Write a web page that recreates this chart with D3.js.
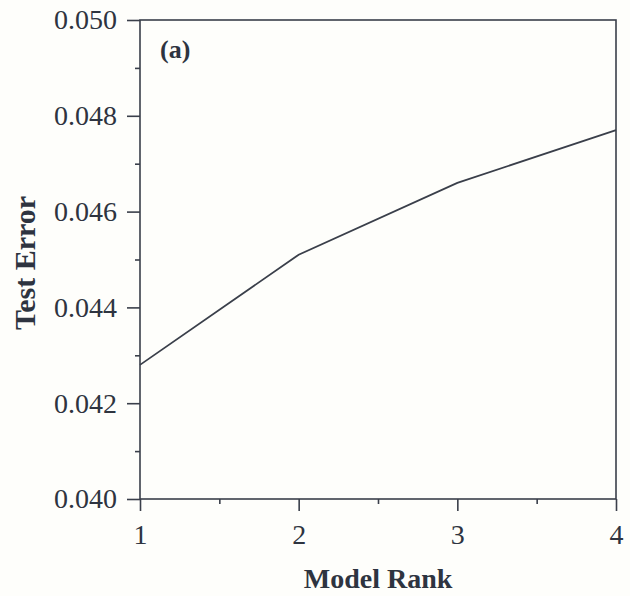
<!DOCTYPE html>
<html>
<head>
<meta charset="utf-8">
<script src="https://cdn.jsdelivr.net/npm/d3@7"></script>
<style>
  body { margin: 0; background: #fefefb; }
  svg { display: block; }
  text { font-family: "Liberation Serif", "Times New Roman", serif; fill: #2e3440; }
</style>
</head>
<body>
<svg class="chart" width="630" height="596"></svg>
<script>
// model rank vs test error
const ranks = [1, 2, 3, 4];
const testError = [0.0428, 0.0451, 0.0466, 0.0477];
const yTicks = [0.040, 0.042, 0.044, 0.046, 0.048, 0.050];
const yMinorTicks = [0.041, 0.043, 0.045, 0.047, 0.049];
const xTicks = [1, 2, 3, 4];
const xMinorTicks = [1.5, 2.5, 3.5];

const ink = '#3a3f4a';
const margin = { top: 20, right: 14, bottom: 97, left: 140 };
const width = 630 - margin.left - margin.right;
const height = 596 - margin.top - margin.bottom;

const svg = d3.select('.chart');
const g = svg.append('g').attr('transform', `translate(${margin.left},${margin.top})`);

const x = d3.scaleLinear().domain([1, 4]).range([0, width]);
const y = d3.scaleLinear().domain([0.040, 0.050]).range([height, 0]);

// frame
g.append('rect')
    .attr('width', width)
    .attr('height', height)
    .attr('fill', 'none')
    .attr('stroke', ink)
    .attr('stroke-width', 1.6);

// y axis
g.append('g')
    .call(d3.axisLeft(y).tickValues(yTicks).tickSize(13).tickPadding(10).tickFormat(d3.format('.3f')));
g.append('g')
    .call(d3.axisLeft(y).tickValues(yMinorTicks).tickSize(5).tickFormat(''));

// x axis
g.append('g')
    .attr('transform', `translate(0,${height})`)
    .call(d3.axisBottom(x).tickValues(xTicks).tickSize(12).tickPadding(13).tickFormat(d3.format('d')));
g.append('g')
    .attr('transform', `translate(0,${height})`)
    .call(d3.axisBottom(x).tickValues(xMinorTicks).tickSize(5).tickFormat(''));

g.selectAll('.domain').remove();
g.selectAll('.tick line').attr('stroke', ink).attr('stroke-width', 1.6);
g.selectAll('.tick text').style('font-size', '28px').style('font-family', '"Liberation Serif", serif').attr('fill', '#2e3440');

// the line
const line = d3.line()
    .x((d, i) => x(ranks[i]))
    .y(d => y(d));

g.append('path')
    .datum(testError)
    .attr('d', line)
    .attr('fill', 'none')
    .attr('stroke', ink)
    .attr('stroke-width', 1.8);

// labels
g.append('text')
    .attr('x', 20)
    .attr('y', 38)
    .style('font-size', '26px')
    .style('font-weight', 'bold')
    .text('(a)');

svg.append('text')
    .attr('x', margin.left + width / 2)
    .attr('y', 588)
    .attr('text-anchor', 'middle')
    .style('font-size', '28px')
    .style('font-weight', 'bold')
    .text('Model Rank');

svg.append('text')
    .attr('transform', `translate(35,263) rotate(-90)`)
    .attr('text-anchor', 'middle')
    .style('font-size', '30px')
    .style('font-weight', 'bold')
    .text('Test Error');
</script>
</body>
</html>
